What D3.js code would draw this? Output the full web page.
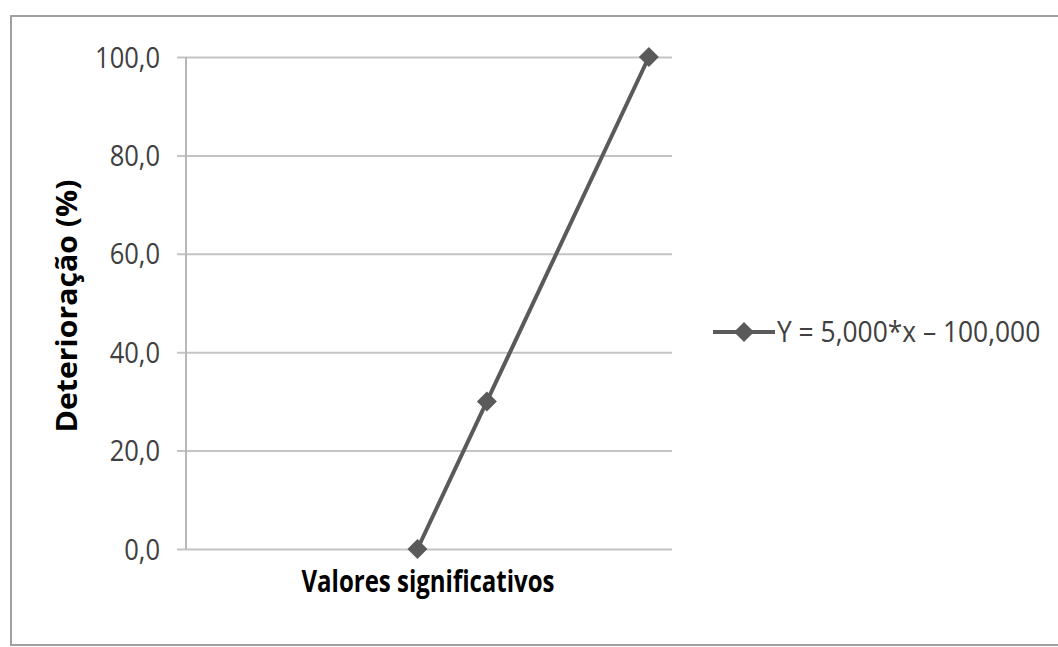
<!DOCTYPE html>
<html>
<head>
<meta charset="utf-8">
<script src="https://cdn.jsdelivr.net/npm/d3@7"></script>
<style>
  html, body { margin: 0; padding: 0; background: #fff; }
  svg { display: block; }
  text { font-family: "Open Sans", "Noto Sans", sans-serif; }
</style>
</head>
<body>
<svg id="chart" width="1058" height="647"></svg>
<script>
// Series: deterioration (%) against significant values, Y = 5x - 100
const xValues = [20, 26, 40];
const yValues = [0, 30, 100];
const yTicks = [0, 20, 40, 60, 80, 100];
const seriesLabel = "Y = 5,000*x \u2013 100,000";
const yTitle = "Deterioração (%)";
const xTitle = "Valores significativos";

const svg = d3.select("#chart");
const W = 1058, H = 647;

// chart area frame (open on the right)
svg.append("rect")
  .attr("x", 11).attr("y", 16)
  .attr("width", W + 20).attr("height", 629)
  .attr("fill", "#fff")
  .attr("stroke", "#a0a0a0")
  .attr("stroke-width", 2);

const plot = { left: 186, right: 672, top: 57, bottom: 549 };

const x = d3.scaleLinear().domain([0, 42]).range([plot.left, plot.right]);
const y = d3.scaleLinear().domain([0, 100]).range([plot.bottom, plot.top]);

const fmt = v => d3.format(".1f")(v).replace(".", ",");

// horizontal gridlines with tick labels
const yAxis = d3.axisLeft(y)
  .tickValues(yTicks)
  .tickSize(-(plot.right - plot.left))
  .tickPadding(26)
  .tickFormat(fmt);

const gy = svg.append("g")
  .attr("transform", `translate(${plot.left},0)`)
  .call(yAxis);
gy.select(".domain").remove();
gy.selectAll(".tick line")
  .attr("x1", -9)
  .attr("stroke", "#c4c4c4")
  .attr("stroke-width", 2);
// condensed tick labels
gy.selectAll(".tick text")
  .attr("x", 0)
  .attr("transform", "translate(-26,0) scale(0.88,1)")
  .attr("fill", "#404040")
  .attr("font-size", 29)
  .attr("dy", "0.35em");

// vertical axis line
svg.append("line")
  .attr("x1", plot.left).attr("x2", plot.left)
  .attr("y1", y(100)).attr("y2", y(0))
  .attr("stroke", "#b8b8b8")
  .attr("stroke-width", 2);

// series line
const line = d3.line()
  .x((d, i) => x(xValues[i]))
  .y(d => y(d));

svg.append("path")
  .datum(yValues)
  .attr("d", line)
  .attr("fill", "none")
  .attr("stroke", "#5a5a5a")
  .attr("stroke-width", 4);

const diamond = d3.symbol().type(d3.symbolSquare).size(200);

svg.selectAll(".marker")
  .data(yValues)
  .join("path")
  .attr("class", "marker")
  .attr("d", diamond)
  .attr("transform", (d, i) => `translate(${x(xValues[i])},${y(d)}) rotate(45)`)
  .attr("fill", "#5a5a5a");

// axis titles
svg.append("text")
  .attr("transform", "translate(77,306) rotate(-90) scale(1.08,1)")
  .attr("text-anchor", "middle")
  .attr("font-size", 28)
  .attr("font-weight", "bold")
  .attr("fill", "#000")
  .text(yTitle);

svg.append("text")
  .attr("transform", "translate(428,592) scale(0.8,1)")
  .attr("text-anchor", "middle")
  .attr("font-size", 30)
  .attr("font-weight", "bold")
  .attr("fill", "#000")
  .text(xTitle);

// legend
const lg = svg.append("g").attr("transform", "translate(713,332)");
lg.append("line")
  .attr("x1", 0).attr("x2", 62)
  .attr("y1", 0).attr("y2", 0)
  .attr("stroke", "#5a5a5a")
  .attr("stroke-width", 4);
lg.append("path")
  .attr("d", diamond)
  .attr("transform", "translate(31,0) rotate(45)")
  .attr("fill", "#5a5a5a");
lg.append("text")
  .attr("transform", "translate(64,0) scale(0.91,1)")
  .attr("dy", "0.35em")
  .attr("font-size", 29)
  .attr("fill", "#404040")
  .text(seriesLabel);
</script>
</body>
</html>
